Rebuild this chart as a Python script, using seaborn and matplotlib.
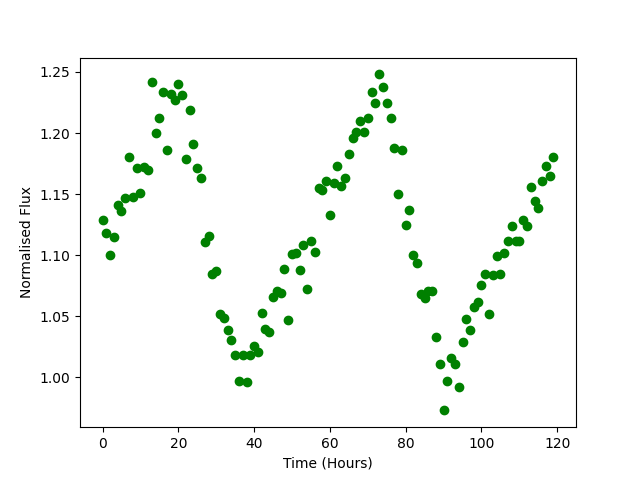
import matplotlib
matplotlib.use('Agg')
import matplotlib.pyplot as plt
import numpy as np
import pandas as pd
import seaborn as sns

# hourly samples
hours = np.arange(120)

flux = [
    1.129, 1.118, 1.100, 1.115, 1.141, 1.136, 1.147, 1.180, 1.148, 1.171,
    1.151, 1.172, 1.170, 1.242, 1.200, 1.212, 1.234, 1.186, 1.232, 1.227,
    1.240, 1.231, 1.179, 1.219, 1.191, 1.171, 1.163, 1.111, 1.116, 1.085,
    1.087, 1.052, 1.049, 1.039, 1.031, 1.018, 0.997, 1.018, 0.996, 1.018,
    1.026, 1.021, 1.053, 1.040, 1.037, 1.066, 1.071, 1.069, 1.089, 1.047,
    1.101, 1.102, 1.088, 1.108, 1.072, 1.112, 1.103, 1.155, 1.153, 1.161,
    1.133, 1.159, 1.173, 1.157, 1.163, 1.183, 1.196, 1.201, 1.210, 1.201,
    1.212, 1.234, 1.225, 1.248, 1.238, 1.225, 1.212, 1.188, 1.150, 1.186,
    1.125, 1.137, 1.100, 1.094, 1.068, 1.065, 1.071, 1.071, 1.033, 1.011,
    0.973, 0.997, 1.016, 1.011, 0.992, 1.029, 1.048, 1.039, 1.058, 1.062,
    1.076, 1.085, 1.052, 1.084, 1.099, 1.085, 1.102, 1.112, 1.124, 1.112,
    1.112, 1.129, 1.124, 1.156, 1.144, 1.139, 1.161, 1.173, 1.165, 1.180,
]

df = pd.DataFrame({'hours': hours, 'flux': flux})

fig, ax = plt.subplots(figsize=(6.4, 4.8), dpi=100)

sns.scatterplot(data=df, x='hours', y='flux', color='green',
                s=36, edgecolor='green', linewidth=1, ax=ax)

ax.set_xlabel('Time (Hours)')
ax.set_ylabel('Normalised Flux')

fig.savefig('out.png')
